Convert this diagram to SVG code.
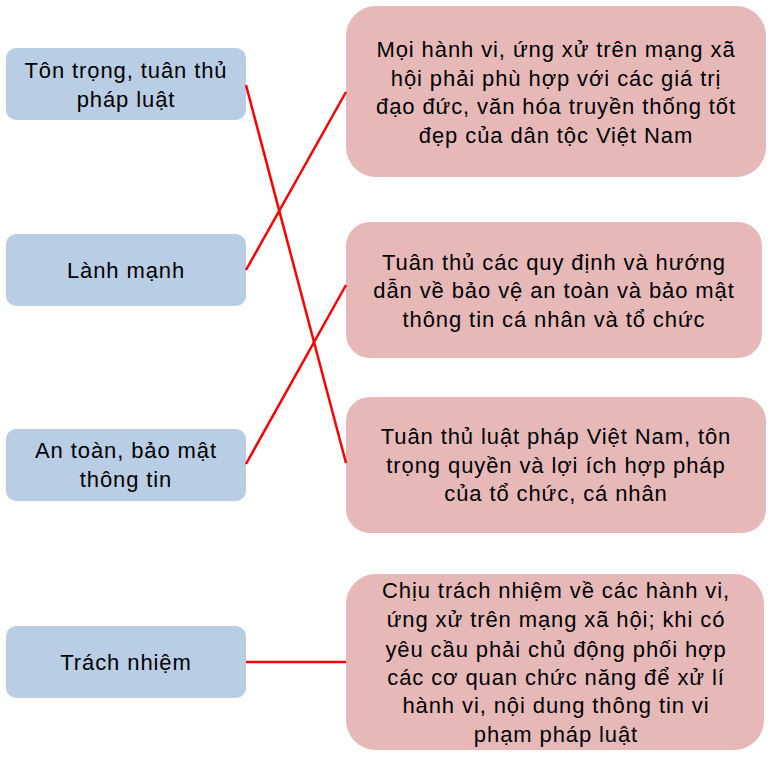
<svg xmlns="http://www.w3.org/2000/svg" width="773" height="758" viewBox="0 0 773 758">
<style>
.l{fill:#B9CDE5}
.r{fill:#E6B9B8}
text{font-family:"Liberation Sans",Arial,sans-serif;font-size:22px;letter-spacing:0.9px;fill:#000;text-anchor:middle}
.c line{stroke:#FF0000;stroke-width:2.5}
</style>
<rect width="773" height="758" fill="#fff"/>
<g id="n1"><rect class="l" x="6" y="48" width="240" height="72" rx="10"/><text x="126" y="78">Tôn trọng, tuân thủ</text><text x="126" y="107">pháp luật</text></g>
<g id="n2"><rect class="l" x="6" y="234" width="240" height="72" rx="10"/><text x="126" y="278">Lành mạnh</text></g>
<g id="n3"><rect class="l" x="6" y="429" width="240" height="72" rx="10"/><text x="126" y="458">An toàn, bảo mật</text><text x="126" y="487">thông tin</text></g>
<g id="n4"><rect class="l" x="6" y="626" width="240" height="72" rx="10"/><text x="126" y="670">Trách nhiệm</text></g>
<g id="r1"><rect class="r" x="346" y="6" width="420" height="171" rx="30"/>
<text x="556" y="57">Mọi hành vi, ứng xử trên mạng xã</text>
<text x="556" y="86">hội phải phù hợp với các giá trị</text>
<text x="556" y="114">đạo đức, văn hóa truyền thống tốt</text>
<text x="556" y="143">đẹp của dân tộc Việt Nam</text></g>
<g id="r2"><rect class="r" x="346" y="222" width="416" height="136" rx="24"/>
<text x="554" y="270">Tuân thủ các quy định và hướng</text>
<text x="554" y="298">dẫn về bảo vệ an toàn và bảo mật</text>
<text x="554" y="327">thông tin cá nhân và tổ chức</text></g>
<g id="r3"><rect class="r" x="346" y="397" width="420" height="136" rx="24"/>
<text x="556" y="444">Tuân thủ luật pháp Việt Nam, tôn</text>
<text x="556" y="473">trọng quyền và lợi ích hợp pháp</text>
<text x="556" y="501">của tổ chức, cá nhân</text></g>
<g id="r4"><rect class="r" x="346" y="574" width="418" height="176" rx="30"/>
<text x="556" y="598">Chịu trách nhiệm về các hành vi,</text>
<text x="556" y="627">ứng xử trên mạng xã hội; khi có</text>
<text x="556" y="657">yêu cầu phải chủ động phối hợp</text>
<text x="556" y="685">các cơ quan chức năng để xử lí</text>
<text x="556" y="713">hành vi, nội dung thông tin vi</text>
<text x="556" y="742">phạm pháp luật</text></g>
<g id="connectors" class="c">
<line x1="246" y1="85" x2="346" y2="463"/>
<line x1="246" y1="270" x2="346" y2="92"/>
<line x1="246" y1="464" x2="346" y2="285"/>
<line x1="246" y1="662" x2="346" y2="662"/>
</g>
</svg>
